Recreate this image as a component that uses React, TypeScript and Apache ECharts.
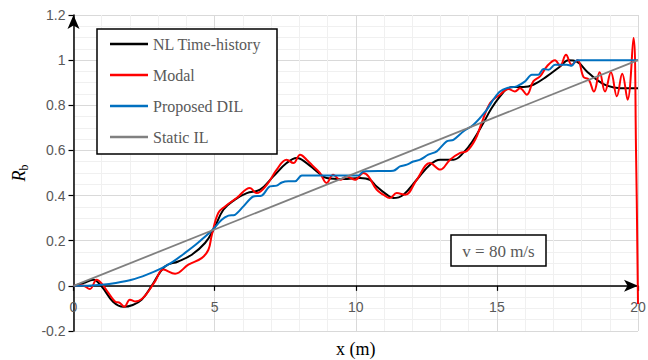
import React, { useEffect, useRef } from "react";
import * as echarts from "echarts";

const seriesNames = ["NL Time-history", "Modal", "Proposed DIL", "Static IL"];

const nlTimeHistory: [number, number][] = [
  [0, 0], [0.35, 0.012], [0.7, 0.027], [1.0, -0.003], [1.4, -0.07], [1.77, -0.093],
  [2.1, -0.085], [2.42, -0.061], [2.77, 0], [3.24, 0.086], [3.71, 0.108], [4.19, 0.138],
  [4.66, 0.19], [4.96, 0.249], [5.31, 0.337], [5.72, 0.382], [6.14, 0.411], [6.61, 0.426],
  [7.08, 0.485], [7.55, 0.544], [7.91, 0.566], [8.26, 0.544], [8.62, 0.507], [8.97, 0.478],
  [9.56, 0.473], [10.15, 0.478], [10.5, 0.47], [10.74, 0.44], [11.1, 0.404], [11.33, 0.389],
  [11.69, 0.404], [12.16, 0.47], [12.63, 0.537], [12.99, 0.559], [13.46, 0.559], [13.81, 0.589],
  [14.17, 0.647], [14.52, 0.721], [14.8, 0.785], [15.11, 0.839], [15.35, 0.872], [15.58, 0.881],
  [15.94, 0.881], [16.29, 0.891], [16.77, 0.928], [17.24, 0.972], [17.53, 1.0], [17.83, 0.994],
  [18.19, 0.95], [18.54, 0.913], [18.9, 0.887], [19.37, 0.876], [20, 0.876],
];

const modal: [number, number][] = [
  [0, 0], [0.3, 0.003], [0.58, -0.014], [0.82, 0.027], [1.0, 0.01], [1.23, -0.03],
  [1.47, -0.069], [1.65, -0.076], [1.8, -0.093], [2.0, -0.061], [2.18, -0.069], [2.42, -0.058],
  [2.65, -0.025], [2.89, 0.02], [3.18, 0.072], [3.6, 0.054], [4.07, 0.094], [4.54, 0.123],
  [4.78, 0.16], [4.9, 0.225], [5.13, 0.323], [5.37, 0.352], [5.78, 0.389], [6.25, 0.434],
  [6.49, 0.411], [6.85, 0.448], [7.2, 0.515], [7.55, 0.559], [7.79, 0.544], [8.03, 0.581],
  [8.26, 0.559], [8.5, 0.529], [8.73, 0.5], [8.97, 0.456], [9.2, 0.492], [9.45, 0.47],
  [9.68, 0.485], [9.97, 0.47], [10.27, 0.5], [10.45, 0.485], [10.74, 0.426], [10.98, 0.404],
  [11.21, 0.389], [11.45, 0.411], [11.75, 0.404], [12.16, 0.47], [12.63, 0.544], [12.99, 0.515],
  [13.34, 0.559], [13.7, 0.589], [13.93, 0.596], [14.23, 0.647], [14.46, 0.721], [14.76, 0.81],
  [15.11, 0.847], [15.41, 0.872], [15.64, 0.861], [15.82, 0.876], [16.06, 0.847], [16.29, 0.906],
  [16.53, 0.928], [16.77, 0.972], [17.06, 1.0], [17.24, 0.975], [17.45, 1.024], [17.65, 0.98],
  [17.86, 1.0], [18.07, 0.925], [18.25, 0.915], [18.44, 0.861], [18.64, 0.946], [18.83, 0.861],
  [19.04, 0.946], [19.25, 0.84], [19.44, 0.94], [19.63, 0.825], [19.84, 1.098], [19.93, 0.6],
  [20, -0.08],
];

const proposedDIL: [number, number][] = [
  [0, 0], [0.5, 0.001], [1.0, 0.005], [1.5, 0.013], [2.06, 0.027], [2.6, 0.05], [3.13, 0.079],
  [3.5, 0.105], [3.95, 0.146], [4.4, 0.19], [4.9, 0.245], [5.25, 0.293], [5.49, 0.311],
  [5.72, 0.315], [6.02, 0.352], [6.37, 0.396], [6.67, 0.4], [6.96, 0.441], [7.2, 0.444],
  [7.38, 0.458], [7.61, 0.463], [7.85, 0.463], [8.09, 0.489], [10.1, 0.489], [10.27, 0.507],
  [11.33, 0.51], [11.57, 0.529], [11.81, 0.537], [12.04, 0.551], [12.28, 0.559], [12.57, 0.581],
  [12.87, 0.596], [13.22, 0.64], [13.46, 0.647], [13.81, 0.684], [14.17, 0.714], [14.64, 0.78],
  [14.9, 0.83], [15.11, 0.861], [15.35, 0.876], [15.7, 0.884], [16.0, 0.906], [16.24, 0.935],
  [16.47, 0.935], [16.65, 0.961], [16.83, 0.957], [17.06, 0.98], [17.48, 0.98], [17.65, 0.975],
  [17.83, 1.0], [20, 1.0],
];

const staticIL: [number, number][] = [[0, 0], [20, 1]];

const xRange = [0, 20];
const yRange = [-0.2, 1.2];

const serif = "Liberation Serif";
const sans = "Liberation Sans";

export default function App() {
  const ref = useRef<HTMLDivElement>(null);
  useEffect(() => {
    if (!ref.current) return;
    const chart = echarts.init(ref.current, undefined, { renderer: "svg" });
    const axisLineBase = { color: "#000", width: 1.5 };
    chart.setOption({
      animation: false,
      backgroundColor: "#fff",
      textStyle: { fontFamily: serif },
      grid: {
        left: 73.5,
        top: 15,
        right: 10,
        bottom: 29,
        containLabel: false,
        outerBoundsMode: "none",
      },
      legend: {
        orient: "vertical",
        left: 110,
        top: 36,
        itemWidth: 38,
        itemHeight: 2.5,
        itemGap: 15,
        padding: 0,
        z: 20,
        icon: "rect",
        data: seriesNames,
        formatter: (name: string) => `{t|${name}}`,
        textStyle: {
          fontFamily: serif,
          fontSize: 16,
          color: "#595959",
          lineHeight: 16,
          rich: {
            t: { fontFamily: serif, fontSize: 16, color: "#595959", lineHeight: 16 },
          },
        },
      },
      xAxis: {
        type: "value",
        min: xRange[0],
        max: xRange[1],
        interval: 5,
        name: "x (m)",
        nameLocation: "middle",
        nameGap: 9,
        nameTextStyle: { fontFamily: serif, fontSize: 18, color: "#000" },
        axisLine: {
          show: true,
          onZero: true,
          lineStyle: axisLineBase,
          symbol: ["none", "arrow"],
          symbolSize: [9, 14],
        },
        axisTick: { show: true, length: 5, lineStyle: { color: "#000", width: 1.2 } },
        axisLabel: { fontFamily: sans, fontSize: 14, color: "#595959", margin: -31 },
        splitLine: { show: true, lineStyle: { color: "#d9d9d9", width: 1 } },
        minorTick: { show: false, splitNumber: 5 },
        minorSplitLine: { show: true, lineStyle: { color: "#f0f0f0", width: 1 } },
      },
      yAxis: {
        type: "value",
        min: yRange[0],
        max: yRange[1],
        interval: 0.2,
        name: "{i|R}{s|b}",
        nameLocation: "middle",
        nameRotate: 90,
        nameGap: 41,
        nameTextStyle: {
          rich: {
            i: { fontFamily: serif, fontStyle: "italic", fontSize: 18, color: "#000", lineHeight: 22, verticalAlign: "middle" },
            s: { fontFamily: serif, fontSize: 12, color: "#000", lineHeight: 22, verticalAlign: "bottom", padding: [6, 0, 0, 0] },
          },
        },
        axisLine: {
          show: true,
          onZero: false,
          lineStyle: axisLineBase,
          symbol: ["none", "arrow"],
          symbolSize: [9, 14],
        },
        axisTick: { show: true, length: 5, lineStyle: { color: "#000", width: 1.2 } },
        axisLabel: { fontFamily: sans, fontSize: 14, color: "#595959", margin: 8 },
        splitLine: { show: true, lineStyle: { color: "#d9d9d9", width: 1 } },
        minorTick: { show: false, splitNumber: 4 },
        minorSplitLine: { show: true, lineStyle: { color: "#f0f0f0", width: 1 } },
      },
      graphic: [
        {
          type: "rect",
          z: 10,
          shape: { x: 97, y: 29, width: 180, height: 125 },
          style: { fill: "#fff", stroke: "#000", lineWidth: 1.5 },
        },
        {
          type: "rect",
          z: 10,
          shape: { x: 451, y: 235, width: 95, height: 31 },
          style: { fill: "#fff", stroke: "#000", lineWidth: 1.5 },
        },
        {
          type: "text",
          z: 11,
          x: 498.5,
          y: 251,
          style: {
            text: "v = 80 m/s",
            fontFamily: serif,
            fontSize: 17,
            fill: "#595959",
            align: "center",
            verticalAlign: "middle",
          },
        },
      ],
      series: [
        {
          name: seriesNames[0],
          type: "line",
          data: nlTimeHistory,
          symbol: "none",
          smooth: 0.4,
          lineStyle: { color: "#000000", width: 2 },
          itemStyle: { color: "#000000" },
          z: 3,
        },
        {
          name: seriesNames[1],
          type: "line",
          data: modal,
          symbol: "none",
          smooth: 0.4,
          lineStyle: { color: "#ff0000", width: 2 },
          itemStyle: { color: "#ff0000" },
          z: 4,
        },
        {
          name: seriesNames[2],
          type: "line",
          data: proposedDIL,
          symbol: "none",
          smooth: 0.3,
          lineStyle: { color: "#0070c0", width: 2 },
          itemStyle: { color: "#0070c0" },
          z: 5,
        },
        {
          name: seriesNames[3],
          type: "line",
          data: staticIL,
          symbol: "none",
          lineStyle: { color: "#808080", width: 1.8 },
          itemStyle: { color: "#808080" },
          z: 6,
        },
      ],
    });
    return () => chart.dispose();
  }, []);
  return (
    <div
      ref={ref}
      style={{ position: "fixed", left: 0, top: 0, width: 648, height: 360 }}
    />
  );
}
